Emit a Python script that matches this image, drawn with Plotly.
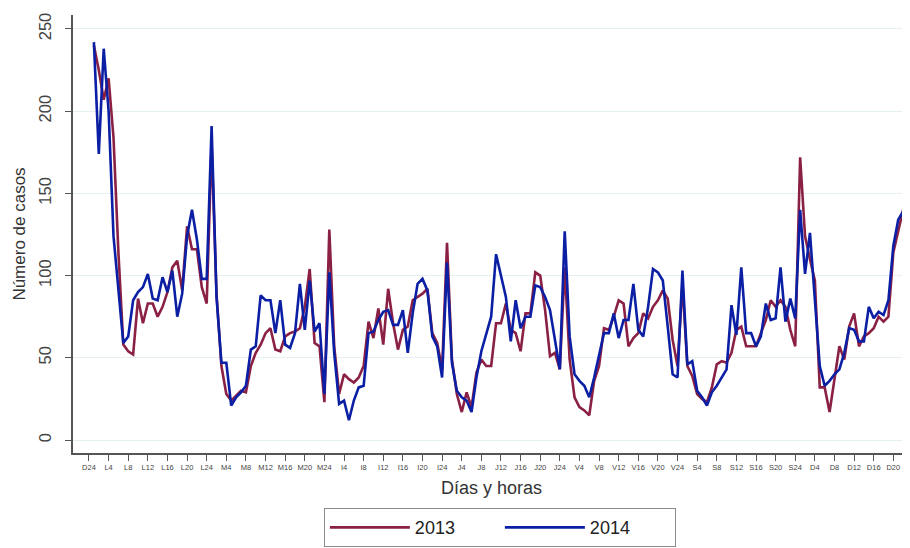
import plotly.graph_objects as go

# Hours since Sunday 24h (D24) ; one value per hour
hours = list(range(1, 168))

cases_2013 = [
    240, 225, 207, 220, 184, 114, 58, 54, 52, 86, 71, 83, 83, 75, 81, 90, 105, 109, 91, 130,
    116, 116, 93, 83, 180, 89, 45, 28, 24, 27, 30, 29, 45, 53, 58, 65, 68, 55, 54, 63,
    65, 66, 68, 81, 104, 59, 57, 23, 128, 57, 28, 40, 37, 35, 38, 45, 72, 62, 80, 58,
    92, 71, 55, 67, 69, 85, 87, 89, 92, 65, 59, 43, 120, 49, 28, 17, 29, 20, 41, 49,
    45, 45, 71, 71, 83, 67, 65, 54, 77, 77, 102, 100, 79, 51, 53, 43, 105, 49, 26, 20,
    18, 15, 36, 45, 68, 67, 75, 85, 83, 57, 62, 65, 77, 74, 81, 85, 91, 86, 61, 45,
    95, 45, 39, 28, 25, 23, 32, 46, 48, 47, 53, 67, 69, 57, 57, 57, 65, 73, 85, 81,
    85, 81, 67, 57, 172, 124, 110, 97, 32, 32, 17, 37, 57, 49, 69, 77, 57, 63, 65, 68,
    75, 72, 75, 114, 128, 140, 153,
]

cases_2014 = [
    242, 174, 238, 200, 124, 89, 59, 63, 85, 90, 93, 101, 86, 85, 99, 90, 103, 75, 89, 124,
    140, 122, 98, 98, 191, 87, 47, 47, 21, 26, 29, 33, 55, 57, 88, 85, 85, 65, 85, 58,
    56, 65, 95, 67, 97, 66, 71, 28, 102, 53, 22, 24, 12, 24, 32, 33, 65, 66, 73, 78,
    79, 70, 70, 79, 53, 77, 95, 98, 91, 63, 57, 38, 108, 47, 30, 26, 24, 17, 38, 54,
    65, 75, 113, 100, 87, 60, 85, 68, 75, 75, 94, 93, 87, 79, 61, 43, 127, 63, 40, 36,
    33, 26, 38, 51, 65, 65, 77, 62, 73, 73, 95, 67, 63, 81, 104, 102, 97, 69, 40, 38,
    103, 46, 48, 30, 26, 21, 29, 33, 38, 43, 82, 64, 105, 65, 65, 57, 63, 83, 73, 74,
    105, 72, 86, 74, 140, 101, 126, 85, 45, 33, 36, 40, 43, 53, 68, 67, 60, 60, 81, 74,
    78, 76, 85, 118, 134, 139, 118,
]

tick_vals = list(range(0, 168, 4))
tick_text = (
    ["D24"]
    + ["L4", "L8", "L12", "L16", "L20", "L24"]
    + ["M4", "M8", "M12", "M16", "M20", "M24"]
    + ["I4", "I8", "I12", "I16", "I20", "I24"]
    + ["J4", "J8", "J12", "J16", "J20", "J24"]
    + ["V4", "V8", "V12", "V16", "V20", "V24"]
    + ["S4", "S8", "S12", "S16", "S20", "S24"]
    + ["D4", "D8", "D12", "D16", "D20"]
)

FONT = "Liberation Sans, Arial, sans-serif"
RED = "#8b2045"
BLUE = "#0b1fa5"

fig = go.Figure()
fig.add_trace(go.Scatter(x=hours, y=cases_2013, mode="lines", name="2013",
                         line=dict(color=RED, width=2.6)))
fig.add_trace(go.Scatter(x=hours, y=cases_2014, mode="lines", name="2014",
                         line=dict(color=BLUE, width=2.6)))

# page body has an 8px margin, so the figure is 902x540 placed at (8, 8)
fig.update_layout(
    width=902, height=540,
    margin=dict(l=65, r=0, t=7, b=95, autoexpand=False),
    paper_bgcolor="white", plot_bgcolor="white",
    font=dict(family=FONT, color="#333333"),
    showlegend=True,
    legend=dict(
        orientation="h", x=0.51, xanchor="center", y=-0.126, yanchor="top",
        font=dict(size=18, family=FONT, color="#222222"),
        bordercolor="#8a8a8a", borderwidth=1, bgcolor="white",
        entrywidth=80, itemwidth=80,
    ),
    xaxis=dict(
        range=[-3.26, 167.4], automargin=False,
        tickmode="array", tickvals=tick_vals, ticktext=tick_text,
        tickfont=dict(size=7.5, color="#444444"),
        ticks="outside", ticklen=6, tickwidth=1.2, tickcolor="#555555",
        showline=True, linecolor="#555555", linewidth=1.8,
        showgrid=False, zeroline=False,
        title=dict(text="Días y horas", font=dict(size=18, color="#333333"), standoff=10),
    ),
    yaxis=dict(
        range=[-7.9, 258.5], automargin=False,
        tickmode="array", tickvals=[0, 50, 100, 150, 200, 250],
        tickangle=-90,
        tickfont=dict(size=16.5, color="#444444"),
        ticks="outside", ticklen=6, tickwidth=1.2, tickcolor="#555555",
        ticklabelstandoff=8,
        showline=True, linecolor="#555555", linewidth=1.8,
        showgrid=True, gridcolor="#e6eff1", gridwidth=1,
        zeroline=False,
        title=dict(text="Número de casos", font=dict(size=17, color="#333333"), standoff=6),
    ),
)

fig.write_html("out.html")
